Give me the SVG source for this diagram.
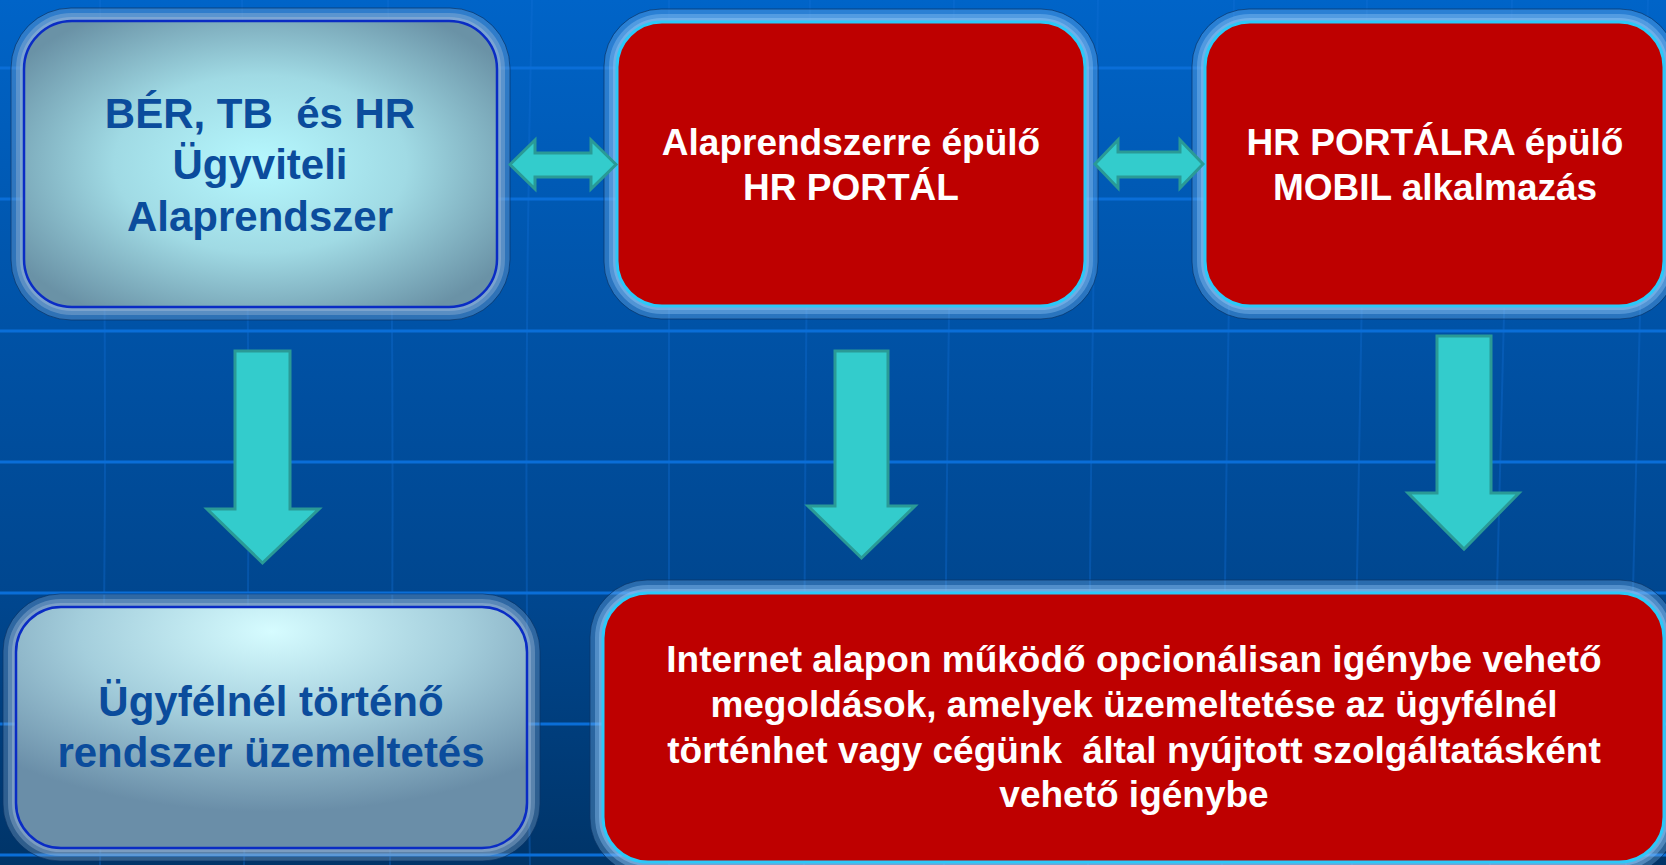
<svg xmlns="http://www.w3.org/2000/svg" width="1666" height="865" viewBox="0 0 1666 865">
  <defs>
    <linearGradient id="bg" x1="0" y1="0" x2="0" y2="1">
      <stop offset="0" stop-color="#0064C8"/>
      <stop offset="0.38" stop-color="#0052A6"/>
      <stop offset="0.7" stop-color="#00468E"/>
      <stop offset="1" stop-color="#003468"/>
    </linearGradient>
    <radialGradient id="light1" cx="0.5" cy="0.5" r="0.62">
      <stop offset="0" stop-color="#B6F8FE"/>
      <stop offset="0.5" stop-color="#A0DAE4"/>
      <stop offset="1" stop-color="#6A92A6"/>
    </radialGradient>
    <radialGradient id="light2" cx="0.5" cy="0.1" r="0.75">
      <stop offset="0" stop-color="#D6FCFF"/>
      <stop offset="0.5" stop-color="#A4CEDC"/>
      <stop offset="1" stop-color="#6A8EA8"/>
    </radialGradient>
    <style>
      .hline { stroke: #0A6ED8; stroke-width: 3; fill: none; }
      .vline { stroke: #1070D8; stroke-width: 2; fill: none; opacity: 0.35; }
      .halo-red { fill: none; stroke: #8CC4F4; }
      .halo-light { fill: none; stroke: #9CB8D8; }
      .halo-edge { fill: none; stroke: #0A3466; stroke-width: 1; opacity: 0.7; }
      .red { fill: #BE0000; stroke: #2CC8F8; stroke-width: 3; }
      .light1 { fill: url(#light1); stroke: #0A2CC4; stroke-width: 2.5; }
      .light2 { fill: url(#light2); stroke: #0A2CC4; stroke-width: 2.5; }
      .arrow { fill: #33CCCC; stroke: #2A9A96; stroke-width: 3; stroke-linejoin: miter; }
      .tw { font-family: "Liberation Sans", Arial, sans-serif; font-weight: bold; font-size: 37px; fill: #FFFFFF; text-anchor: middle; white-space: pre; }
      .tb { font-family: "Liberation Sans", Arial, sans-serif; font-weight: bold; font-size: 42px; fill: #0B4C9C; text-anchor: middle; white-space: pre; }
    </style>
  </defs>

  <!-- background -->
  <rect x="0" y="0" width="1666" height="865" fill="url(#bg)"/>
  <g id="grid">
    <path class="vline" d="M100,0 Q110,430 100,865"/>
    <path class="vline" d="M242,0 Q254,430 244,865"/>
    <path class="vline" d="M388,0 Q396,430 390,865"/>
    <path class="vline" d="M532,0 Q522,430 530,865"/>
    <path class="vline" d="M669,0 Q669,430 669,865"/>
    <path class="vline" d="M810,0 Q804,430 804,865"/>
    <path class="vline" d="M954,0 Q946,430 944,865"/>
    <path class="vline" d="M1098,0 Q1090,430 1088,865"/>
    <path class="vline" d="M1234,0 Q1226,430 1222,865"/>
    <path class="vline" d="M1367,0 Q1358,430 1352,865"/>
    <path class="vline" d="M1512,0 Q1500,430 1490,865"/>
    <path class="vline" d="M1648,0 Q1636,430 1626,865"/>
    <path class="hline" d="M0,68 H1666"/>
    <path class="hline" d="M0,199 H1666"/>
    <path class="hline" d="M0,331 H1666"/>
    <path class="hline" d="M0,462 H1666"/>
    <path class="hline" d="M0,593 H1666"/>
    <path class="hline" d="M0,724 H1666"/>
    <path class="hline" d="M0,855 H1666"/>
  </g>

  <!-- node 1 -->
  <g id="node-ber">
    <rect class="halo-light" x="24" y="21" width="473" height="286" rx="48" stroke-width="26" stroke-opacity="0.3"/>
    <rect class="halo-light" x="24" y="21" width="473" height="286" rx="48" stroke-width="16" stroke-opacity="0.4"/>
    <rect class="halo-light" x="24" y="21" width="473" height="286" rx="48" stroke-width="8" stroke-opacity="0.5"/>
    <rect class="halo-edge" x="11" y="8" width="499" height="312" rx="60"/>
    <rect class="light1" x="24" y="21" width="473" height="286" rx="48"/>
    <text class="tb" x="260" y="128">BÉR, TB  és HR</text>
    <text class="tb" x="260" y="179">Ügyviteli</text>
    <text class="tb" x="260" y="231">Alaprendszer</text>
  </g>

  <!-- node 2 -->
  <g id="node-portal">
    <rect class="halo-red" x="617" y="22" width="468" height="284" rx="45" stroke-width="26" stroke-opacity="0.3"/>
    <rect class="halo-red" x="617" y="22" width="468" height="284" rx="45" stroke-width="16" stroke-opacity="0.4"/>
    <rect class="halo-red" x="617" y="22" width="468" height="284" rx="45" stroke-width="8" stroke-opacity="0.5"/>
    <rect class="halo-edge" x="604" y="9" width="494" height="310" rx="57"/>
    <rect class="red" x="617" y="22" width="468" height="284" rx="45"/>
    <text class="tw" x="851" y="155">Alaprendszerre épülő</text>
    <text class="tw" x="851" y="200">HR PORTÁL</text>
  </g>

  <!-- node 3 -->
  <g id="node-mobil">
    <rect class="halo-red" x="1205" y="22" width="459" height="284" rx="45" stroke-width="26" stroke-opacity="0.3"/>
    <rect class="halo-red" x="1205" y="22" width="459" height="284" rx="45" stroke-width="16" stroke-opacity="0.4"/>
    <rect class="halo-red" x="1205" y="22" width="459" height="284" rx="45" stroke-width="8" stroke-opacity="0.5"/>
    <rect class="halo-edge" x="1192" y="9" width="485" height="310" rx="57"/>
    <rect class="red" x="1205" y="22" width="459" height="284" rx="45"/>
    <text class="tw" x="1435" y="155">HR PORTÁLRA épülő</text>
    <text class="tw" x="1435" y="200">MOBIL alkalmazás</text>
  </g>

  <!-- node 4 -->
  <g id="node-ugyfel">
    <rect class="halo-light" x="16" y="607" width="511" height="241" rx="45" stroke-width="26" stroke-opacity="0.3"/>
    <rect class="halo-light" x="16" y="607" width="511" height="241" rx="45" stroke-width="16" stroke-opacity="0.4"/>
    <rect class="halo-light" x="16" y="607" width="511" height="241" rx="45" stroke-width="8" stroke-opacity="0.5"/>
    <rect class="halo-edge" x="3" y="594" width="537" height="267" rx="57"/>
    <rect class="light2" x="16" y="607" width="511" height="241" rx="45"/>
    <text class="tb" x="271" y="716">Ügyfélnél történő</text>
    <text class="tb" x="271" y="767">rendszer üzemeltetés</text>
  </g>

  <!-- node 5 -->
  <g id="node-internet">
    <rect class="halo-red" x="603" y="593" width="1061" height="269" rx="45" stroke-width="26" stroke-opacity="0.3"/>
    <rect class="halo-red" x="603" y="593" width="1061" height="269" rx="45" stroke-width="16" stroke-opacity="0.4"/>
    <rect class="halo-red" x="603" y="593" width="1061" height="269" rx="45" stroke-width="8" stroke-opacity="0.5"/>
    <rect class="halo-edge" x="590" y="580" width="1087" height="295" rx="57"/>
    <rect class="red" x="603" y="593" width="1061" height="269" rx="45"/>
    <text class="tw" x="1134" y="672">Internet alapon működő opcionálisan igénybe vehető</text>
    <text class="tw" x="1134" y="717">megoldások, amelyek üzemeltetése az ügyfélnél</text>
    <text class="tw" x="1134" y="763">történhet vagy cégünk  által nyújtott szolgáltatásként</text>
    <text class="tw" x="1134" y="807">vehető igénybe</text>
  </g>

  <!-- connectors -->
  <g id="connectors">
    <path class="arrow" d="M510,164.5 L535,140 V153 H591 V140 L616,164.5 L591,189 V177 H535 V189 Z"/>
    <path class="arrow" d="M1095,164 L1118,140 V152 H1180 V140 L1203,164 L1180,188 V177 H1118 V188 Z"/>
    <path class="arrow" d="M235,351 H290 V509 H319 L262.5,563 L207,509 H235 Z"/>
    <path class="arrow" d="M835,351 H888 V506 H915 L861.5,558 L808,506 H835 Z"/>
    <path class="arrow" d="M1437,336 H1491 V493 H1519 L1464,549 L1408,493 H1437 Z"/>
  </g>
</svg>
